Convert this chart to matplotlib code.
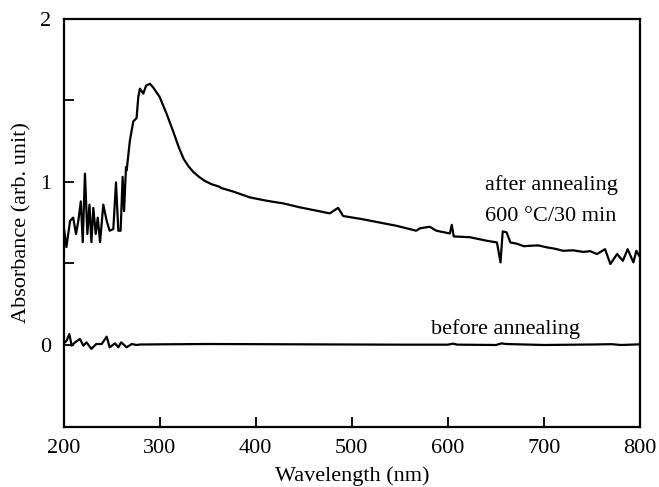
import matplotlib
matplotlib.use("Agg")
import matplotlib.pyplot as plt
from matplotlib.ticker import MultipleLocator, FixedLocator

plt.rcParams['font.family'] = ['Liberation Serif', 'DejaVu Serif']

# After annealing (600 °C / 30 min)
after_nm = [200.3, 203, 206.8, 210, 213, 215.4, 218, 220, 222.3, 224.8, 227, 229, 231, 233.5,
            235.6, 238, 241.4, 244.9, 248, 251.8, 254.6, 257, 259.4, 261.5, 263, 265,
            265.7, 269, 272.6, 276, 277.8, 279.5, 283, 286, 289.9, 293, 296.5, 300,
            307, 314, 320, 325, 330, 335, 341, 347, 354, 362, 364, 376.5, 394, 411, 429, 446,
            464, 477,
            485.7, 491, 511.6, 529, 546.6, 567, 571, 581, 588, 602, 604, 606, 623, 640, 651,
            654.7, 657, 661, 665, 672, 679, 686, 694, 703, 711, 720, 730, 741, 748, 755,
            763.5, 769, 776, 782, 787, 793, 796, 800]
after_abs = [0.72, 0.60, 0.76, 0.78, 0.68, 0.76, 0.88, 0.63, 1.05, 0.68, 0.86, 0.63, 0.84, 0.68,
             0.78, 0.63, 0.86, 0.76, 0.70, 0.71, 0.996, 0.70, 0.70, 1.03, 0.82, 1.09,
             1.07, 1.25, 1.37, 1.39, 1.52, 1.57, 1.54, 1.59, 1.60, 1.58, 1.55, 1.52,
             1.42, 1.31, 1.21, 1.14, 1.095, 1.06, 1.03, 1.005, 0.985, 0.97, 0.962, 0.94,
             0.904, 0.884, 0.867, 0.843, 0.822, 0.806,
             0.84, 0.79, 0.77, 0.75, 0.73, 0.70, 0.715, 0.724, 0.70, 0.683, 0.736, 0.665, 0.66,
             0.639, 0.628,
             0.506, 0.696, 0.69, 0.628, 0.62, 0.605, 0.608, 0.61, 0.598, 0.59, 0.577, 0.58,
             0.57, 0.575, 0.557,
             0.587, 0.496, 0.557, 0.516, 0.587, 0.506, 0.577, 0.536]

# Before annealing
before_nm = [200.3, 203.3, 206, 208.5, 212, 217, 220.6, 224, 229, 234, 239.7, 244.9, 248,
             253.5, 257, 260, 265.7, 271, 276, 279.5, 300, 350, 400, 450, 500, 550, 600,
             605, 610, 650, 656, 660, 700, 750, 770, 780, 800]
before_abs = [0.01, 0.027, 0.067, -0.004, 0.016, 0.037, -0.004, 0.016, -0.024, 0.006, 0.006,
              0.051, -0.014, 0.01, -0.014, 0.016, -0.014, 0.006, 0.0, 0.003, 0.004, 0.006,
              0.005, 0.004, 0.003, 0.002, 0.002, 0.008, 0.002, 0.0, 0.01, 0.006, 0.0, 0.003,
              0.005, 0.0, 0.004]

fig = plt.figure(figsize=(6.59, 4.87), dpi=100)
ax = fig.add_axes([0.0964, 0.124, 0.875, 0.838])

ax.plot(after_nm, after_abs, color='black', lw=1.6)
ax.plot(before_nm, before_abs, color='black', lw=1.6)

ax.set_xlim(200, 800)
ax.set_ylim(-0.5, 2)
ax.xaxis.set_major_locator(MultipleLocator(100))
ax.yaxis.set_major_locator(FixedLocator([0, 1, 2]))
ax.yaxis.set_minor_locator(FixedLocator([-0.5, 0.5, 1.5]))
ax.tick_params(axis='both', which='both', direction='in', length=7, width=1.3,
               labelsize=16, top=False, right=False)
ax.tick_params(axis='x', pad=9)
ax.tick_params(axis='y', pad=9)
for s in ax.spines.values():
    s.set_linewidth(1.6)

ax.set_xlabel('Wavelength (nm)', fontsize=16, labelpad=6)
ax.set_ylabel('Absorbance (arb. unit)', fontsize=16, labelpad=6)

ax.text(639, 0.949, 'after annealing', fontsize=16, va='baseline', ha='left')
ax.text(639, 0.761, '600 °C/30 min', fontsize=16, va='baseline', ha='left')
ax.text(582, 0.067, 'before annealing', fontsize=16, va='baseline', ha='left')

fig.savefig('out.png', dpi=100)
